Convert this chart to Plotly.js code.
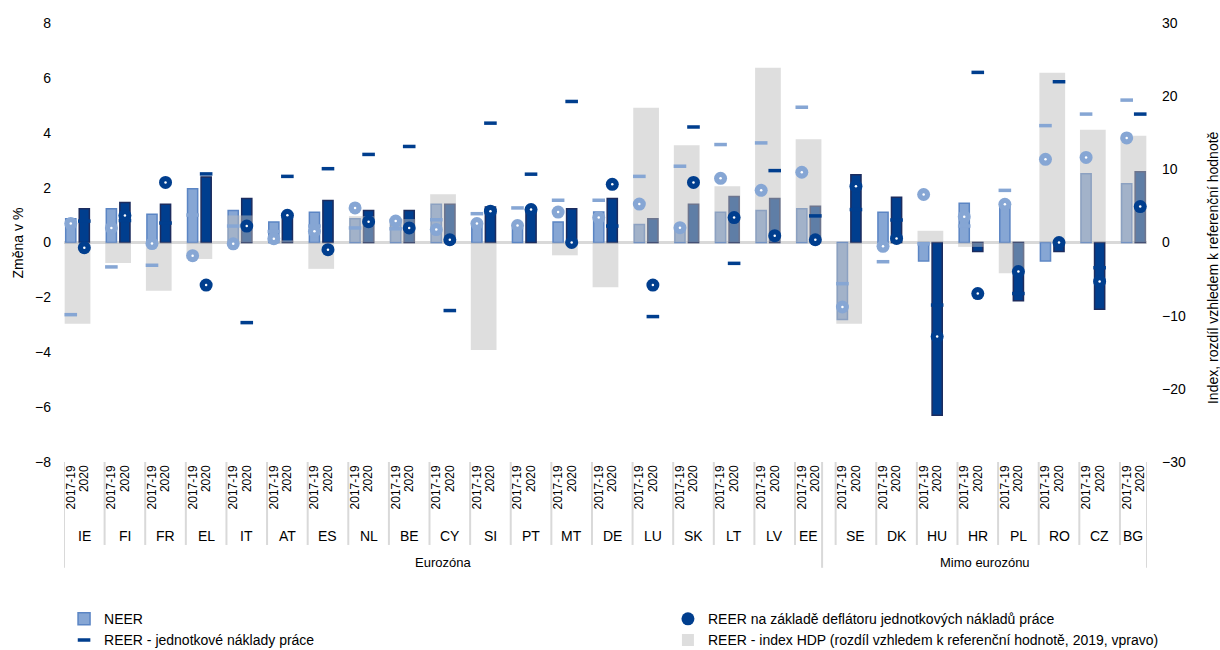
<!DOCTYPE html>
<html><head><meta charset="utf-8">
<script src="https://cdn.plot.ly/plotly-3.0.1.min.js"></script>
<style>html,body{margin:0;padding:0;background:#fff}#chart{width:1220px;height:650px}</style>
</head><body><div id="chart"></div>
<script>
// ---------- data ----------
const countries = ['IE','FI','FR','EL','IT','AT','ES','NL','BE','CY','SI','PT','MT','DE','LU','SK','LT','LV','EE',
                   'SE','DK','HU','HR','PL','RO','CZ','BG'];
const euroCount = 19;
const periods = ['2017-19','2020'];
const groupLabels = ['Eurozóna','Mimo eurozónu'];

const neer1719 = [0.87,1.23,1.03,1.96,1.17,0.75,1.10,0.87,0.81,1.39,0.75,0.50,0.75,1.11,0.66,0.50,1.10,1.17,1.23,
                  -2.81,1.10,-0.67,1.43,1.43,-0.67,2.51,2.14];
const neer2020 = [1.23,1.46,1.39,2.39,1.60,1.05,1.53,1.17,1.17,1.39,1.29,1.17,1.23,1.60,0.87,1.39,1.68,1.60,1.32,
                  2.47,1.65,-6.30,-0.33,-2.12,-0.33,-2.43,2.58];
const reerDefl1719 = [0.69,0.53,-0.04,-0.48,-0.05,0.14,0.41,1.26,0.78,0.47,0.69,0.62,1.11,0.91,1.40,0.54,2.34,1.90,2.56,
                      -2.35,-0.14,1.75,0.94,1.39,3.03,3.10,3.81];
const reerDefl2020 = [-0.19,0.98,2.19,-1.55,0.60,0.99,-0.26,0.76,0.53,0.10,1.14,1.20,0.00,2.12,-1.55,2.19,0.91,0.25,0.10,
                      2.05,0.15,-3.43,-1.86,-1.06,0.00,-1.42,1.31];
const reerUlc1719 = [-2.63,-0.89,-0.83,1.00,0.60,0.40,0.60,0.53,0.50,0.83,1.05,1.26,1.54,1.54,2.41,2.78,3.57,3.63,4.93,
                     -1.50,-0.70,-0.05,0.60,1.90,4.26,4.68,5.19];
const reerUlc2020 = [0.78,0.80,0.71,2.50,-2.92,2.41,2.69,3.21,3.50,-2.48,4.35,2.49,5.14,0.60,-2.70,4.21,-0.76,2.62,0.97,
                     1.20,0.82,-2.28,6.20,-1.86,5.86,-0.92,4.68];
const gdpIndex = [-11.1,-2.8,-6.6,-2.25,3.7,0.3,-3.6,3.6,3.2,6.6,-14.7,0,-1.75,-6.1,18.4,13.3,7.7,23.9,14.1,
                  -11.1,0,1.6,-0.6,-4.2,23.2,15.4,14.6];

const names = {
  neer: 'NEER',
  defl: 'REER na základě deflátoru jednotkových nákladů práce',
  ulc: 'REER - jednotkové náklady práce',
  gdp: 'REER - index HDP (rozdíl vzhledem k referenční hodnotě, 2019, vpravo)'
};

// ---------- category slots ----------
function base(i){ return i < euroCount ? 3*i : 57 + 3*(i-euroCount); }
const x1 = countries.map((c,i)=>base(i)+0.5);
const x2 = countries.map((c,i)=>base(i)+1.5);
const xg = countries.map((c,i)=>base(i)+1);
const tickvals = [], ticktext = [];
countries.forEach((c,i)=>{ tickvals.push(x1[i], x2[i]); ticktext.push(periods[0], periods[1]); });

const LIGHT = '#86A6D4', LIGHT_LINE = '#5B85C4', DARK = '#003E8E', DARK_LINE = '#1C2C5E';
const FONT = 'Liberation Sans, Arial, sans-serif';

const traces = [
  {type:'bar', x:x1, y:neer1719, width:0.75, name:names.neer, legend:'legend', legendrank:1,
   marker:{color:LIGHT, line:{color:LIGHT_LINE, width:1.5}}, hoverinfo:'y'},
  {type:'bar', x:x2, y:neer2020, width:0.75, showlegend:false,
   marker:{color:DARK, line:{color:DARK_LINE, width:1.5}}, hoverinfo:'y'},
  {type:'bar', x:xg, y:gdpIndex, width:1.9, yaxis:'y2', name:names.gdp, legend:'legend2', legendrank:2,
   marker:{color:'rgba(190,190,190,0.5)', line:{width:0}}, hoverinfo:'y'},
  {type:'scatter', mode:'markers', x:x1, y:reerUlc1719, yaxis:'y3', showlegend:false,
   marker:{symbol:'line-ew', size:9, line:{color:LIGHT, width:3.5}}},
  {type:'scatter', mode:'markers', x:x2, y:reerUlc2020, yaxis:'y3', name:names.ulc, legend:'legend', legendrank:2,
   marker:{symbol:'line-ew', size:9, line:{color:DARK, width:3.5}}},
  {type:'scatter', mode:'markers', x:x1, y:reerDefl1719, yaxis:'y3', showlegend:false,
   marker:{symbol:'circle', size:13, color:LIGHT}},
  {type:'scatter', mode:'markers', x:x2, y:reerDefl2020, yaxis:'y3', name:names.defl, legend:'legend2', legendrank:1,
   marker:{symbol:'circle', size:13, color:DARK}},
  {type:'scatter', mode:'markers', x:x1.concat(x2), y:reerDefl1719.concat(reerDefl2020), yaxis:'y3', showlegend:false,
   hoverinfo:'skip', marker:{symbol:'circle', size:2.5, color:'#fff'}}
];

// ---------- separators & labels ----------
const shapes = [];
const lineStyle = {color:'#D9D9D9', width:2};
const longAt = [0, 56, 80];
countries.forEach((c,i)=>{
  const b = base(i);
  if (longAt.indexOf(b) < 0) shapes.push({type:'line', xref:'x', yref:'paper', x0:b, x1:b, y0:0, y1:-0.189, line:lineStyle});
});
longAt.forEach(b=>shapes.push({type:'line', xref:'x', yref:'paper', x0:b, x1:b, y0:0, y1:-0.241, line:lineStyle}));

const annotations = countries.map((c,i)=>({
  text:c, xref:'x', yref:'paper', x: base(i) + ((i===euroCount-1 || i===countries.length-1) ? 1 : 1.5),
  y:-0.169, yanchor:'middle', showarrow:false, font:{size:14, color:'#000', family:FONT}
}));
annotations.push({text:groupLabels[0], xref:'x', yref:'paper', x:28, y:-0.228, yanchor:'middle', showarrow:false,
  font:{size:13, color:'#000', family:FONT}});
annotations.push({text:groupLabels[1], xref:'x', yref:'paper', x:68, y:-0.228, yanchor:'middle', showarrow:false,
  font:{size:13, color:'#000', family:FONT}});
annotations.push({text:'Změna v %', xref:'paper', yref:'paper', x:-0.0425, y:0.5, textangle:-90, showarrow:false,
  xanchor:'center', yanchor:'middle', font:{size:14, color:'#000', family:FONT}});
annotations.push({text:'Index, rozdíl vzhledem k referenční hodnotě', xref:'paper', yref:'paper', x:1.061, y:0.442,
  textangle:-90, showarrow:false, xanchor:'center', yanchor:'middle', font:{size:14, color:'#000', family:FONT}});

const layout = {
  width:1220, height:650,
  margin:{l:64, r:73, t:23, b:188, autoexpand:false},
  paper_bgcolor:'#fff', plot_bgcolor:'#fff',
  font:{family:FONT, size:14, color:'#000'},
  barmode:'overlay',
  showlegend:true,
  xaxis:{range:[0,80], tickvals:tickvals, ticktext:ticktext, tickangle:-90, tickfont:{size:12, family:FONT},
         showgrid:false, zeroline:false, showline:false, ticks:'', fixedrange:true, automargin:false},
  yaxis:{range:[-8,8], dtick:2, showgrid:false, zeroline:true, zerolinecolor:'#D9D9D9', zerolinewidth:3,
         showline:false, ticks:'', ticklabelstandoff:12, tickfont:{size:14}, automargin:false},
  yaxis2:{range:[-30,30], dtick:10, overlaying:'y', side:'right', showgrid:false, zeroline:false,
          showline:false, ticks:'', ticklabelstandoff:14, tickfont:{size:14}, automargin:false},
  yaxis3:{range:[-8,8], overlaying:'y', visible:false, showgrid:false, zeroline:false},
  legend:{xref:'container', yref:'container', x:0.0525, y:0.072, xanchor:'left', yanchor:'top',
          orientation:'v', font:{size:14}, bgcolor:'rgba(0,0,0,0)'},
  legend2:{xref:'container', yref:'container', x:0.5475, y:0.072, xanchor:'left', yanchor:'top',
          orientation:'v', font:{size:14}, bgcolor:'rgba(0,0,0,0)'},
  shapes:shapes,
  annotations:annotations
};

Plotly.newPlot('chart', traces, layout, {displayModeBar:false, staticPlot:true});
</script>
</body></html>
